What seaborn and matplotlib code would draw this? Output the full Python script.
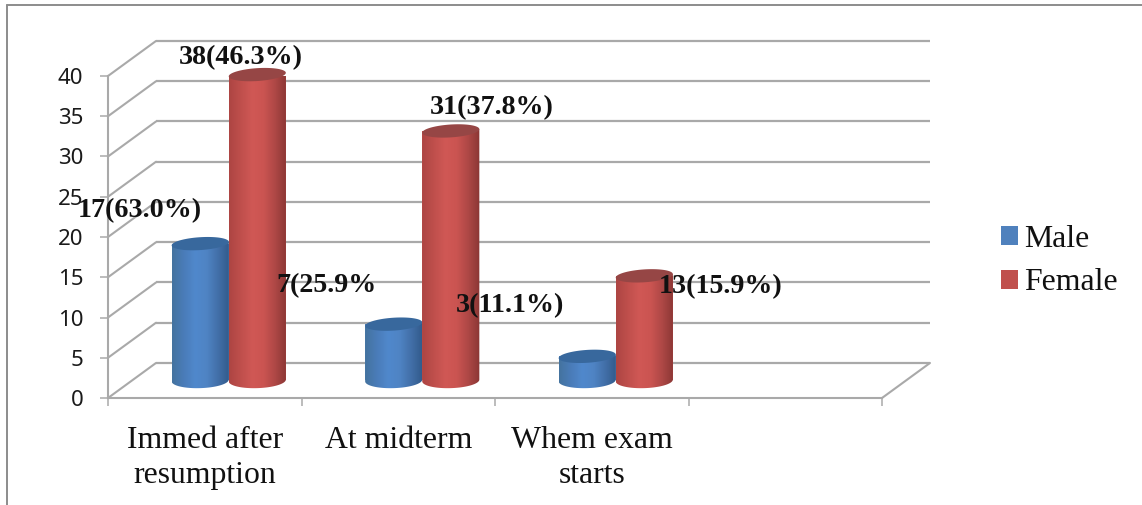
import numpy as np
import pandas as pd
import matplotlib
matplotlib.use("Agg")
import matplotlib.pyplot as plt
from matplotlib.colors import LinearSegmentedColormap
from matplotlib.lines import Line2D
from matplotlib.patches import Polygon
import seaborn as sns

# Survey counts per timing category
categories = ["Immed after\nresumption", "At midterm", "Whem exam\nstarts"]
male_counts = [17, 7, 3]
female_counts = [38, 31, 13]
male_labels = ["17(63.0%)", "7(25.9%", "3(11.1%)"]
female_labels = ["38(46.3%)", "31(37.8%)", "13(15.9%)"]
y_ticks = [0, 5, 10, 15, 20, 25, 30, 35, 40]

W, H = 1142, 505
DPI = 100
GRID = "#a9a9a9"
SERIF = "Liberation Serif"

sns.set_theme(style="white")
plt.rcParams["font.family"] = ["Noto Sans", "DejaVu Sans"]

df = pd.DataFrame({
    "category": categories * 2,
    "count": male_counts + female_counts,
    "sex": ["Male"] * 3 + ["Female"] * 3,
})

fig = plt.figure(figsize=(W / DPI, H / DPI), dpi=DPI, facecolor="white")
ax = fig.add_axes([108 / W, (H - 398) / H, 774 / W, 322 / H])

sns.barplot(data=df, x="category", y="count", hue="sex", hue_order=["Male", "Female"],
            palette=["#4f81bd", "#c0504d"], width=0.59, saturation=1, errorbar=None,
            gap=0, ax=ax, zorder=3, linewidth=0)

ax.set_xlim(-0.5, 3.5)
ax.set_ylim(0, 40)

# Oblique depth of the box, in data units
depth_x = 0.248
depth_y = 4.35

# Back wall, left wall and floor edge
ax.hlines(np.array(y_ticks) + depth_y, -0.5 + depth_x, 3.5 + depth_x, color=GRID, lw=1.6,
          clip_on=False, zorder=1)
for t in y_ticks:
    ax.plot([-0.5, -0.5 + depth_x], [t, t + depth_y], color=GRID, lw=1.5, clip_on=False, zorder=1)
ax.plot([3.5, 3.5 + depth_x], [0, depth_y], color=GRID, lw=1.5, clip_on=False, zorder=1)

blue_cm = LinearSegmentedColormap.from_list(
    "b", ["#44739f", "#4a7cb8", "#5088cc", "#4f84c4", "#426fa8", "#315a8a"])
red_cm = LinearSegmentedColormap.from_list(
    "r", ["#ad4543", "#bf4f4c", "#d05855", "#cb5451", "#ae4846", "#8a3634"])
gradient = np.linspace(0, 1, 128).reshape(1, -1)
t = np.linspace(0, 2 * np.pi, 121)


def draw_cylinder(bar, cmap, cap_colour, z):
    # Turn a flat seaborn bar into a shaded cylinder sitting mid-way in the depth
    bar.set_x(bar.get_x() + depth_x / 2)
    bar.set_y(depth_y / 2)
    x0, w, h = bar.get_x(), bar.get_width(), bar.get_height()
    base = depth_y / 2
    top = base + h
    cx, a = x0 + w / 2, w / 2
    b_top, b_base, tilt = 0.8, 0.95, 0.22
    lower = np.pi + np.linspace(0, np.pi, 60)
    arc_low = np.c_[cx + a * np.cos(lower), base + b_base * np.sin(lower) + 0.5 * tilt * np.cos(lower)]
    body = np.vstack([arc_low, [[x0 + w, top + tilt], [x0, top - tilt]]])
    bar.set_zorder(z)
    clip = Polygon(body, closed=True, transform=ax.transData, facecolor="none", edgecolor="none")
    ax.add_patch(clip)
    im = ax.imshow(gradient, cmap=cmap, extent=[x0, x0 + w, base - 2, top + 2], aspect="auto",
                   interpolation="bilinear", zorder=z + 0.1)
    im.set_clip_path(clip)
    cap = np.c_[cx + a * np.cos(t), top + b_top * np.sin(t) + tilt * np.cos(t)]
    ax.add_patch(Polygon(cap, closed=True, facecolor=cap_colour, edgecolor="none",
                         zorder=z + 0.2, clip_on=False))


for bar in ax.containers[0]:
    draw_cylinder(bar, blue_cm, "#38689d", 3)
for bar in ax.containers[1]:
    draw_cylinder(bar, red_cm, "#964645", 4)

ax.set_xlim(-0.5, 3.5)
ax.set_ylim(0, 40)

# Value labels, placed in pixels relative to the top of each cylinder
male_nudge = [(-60, 33), (-67, 39), (-77, 51)]
female_nudge = [(-16, 17), (41, 23), (76, -11)]
for container, labels, nudges in [(ax.containers[0], male_labels, male_nudge),
                                  (ax.containers[1], female_labels, female_nudge)]:
    for bar, text, nudge in zip(container, labels, nudges):
        ax.annotate(text, (bar.get_x() + bar.get_width() / 2, bar.get_y() + bar.get_height()),
                    xytext=nudge, textcoords="offset pixels", ha="center", va="center",
                    fontsize=20.2, fontweight="bold", family=SERIF, color="#111111",
                    zorder=6, annotation_clip=False)

# Axes furniture
sns.despine(ax=ax, top=True, right=True)
for side in ("left", "bottom"):
    ax.spines[side].set_color(GRID)
    ax.spines[side].set_linewidth(1.5)
    ax.spines[side].set_zorder(2)
ax.set_xlabel("")
ax.set_ylabel("")
ax.set_yticks(y_ticks)
ax.tick_params(axis="y", which="major", left=True, length=5.8, width=1.1, color=GRID,
               pad=12, labelsize=16, labelcolor="#1a1a1a")
ax.set_xticks([-0.5, 0.5, 1.5, 2.5, 3.5])
ax.set_xticklabels([])
ax.tick_params(axis="x", which="major", bottom=True, length=5.8, width=1.1, color=GRID)
ax.set_xticks([0, 1, 2], minor=True)
ax.set_xticklabels(categories, minor=True, fontsize=22.9, family=SERIF, color="#111111",
                   linespacing=1.27)
ax.tick_params(axis="x", which="minor", bottom=False, length=0, pad=20)

handles, labels = ax.get_legend_handles_labels()
ax.legend(handles, labels, loc="upper left", bbox_to_anchor=(1001 / W, 1 - 225 / H),
          bbox_transform=fig.transFigure, frameon=False, borderpad=0, borderaxespad=0,
          handlelength=0.54, handleheight=0.54, handletextpad=0.18, labelspacing=0.45,
          prop={"family": SERIF, "size": 22.9}, labelcolor="#111111")

# Chart-area frame along the top and left
frame = "#8c8c8c"
fig.add_artist(Line2D([6.5 / W, 6.5 / W], [0, 1 - 5 / H], color=frame, lw=1.4))
fig.add_artist(Line2D([6.5 / W, 1], [1 - 5 / H, 1 - 5 / H], color=frame, lw=1.4))

fig.savefig("out.png", dpi=DPI, facecolor="white")
